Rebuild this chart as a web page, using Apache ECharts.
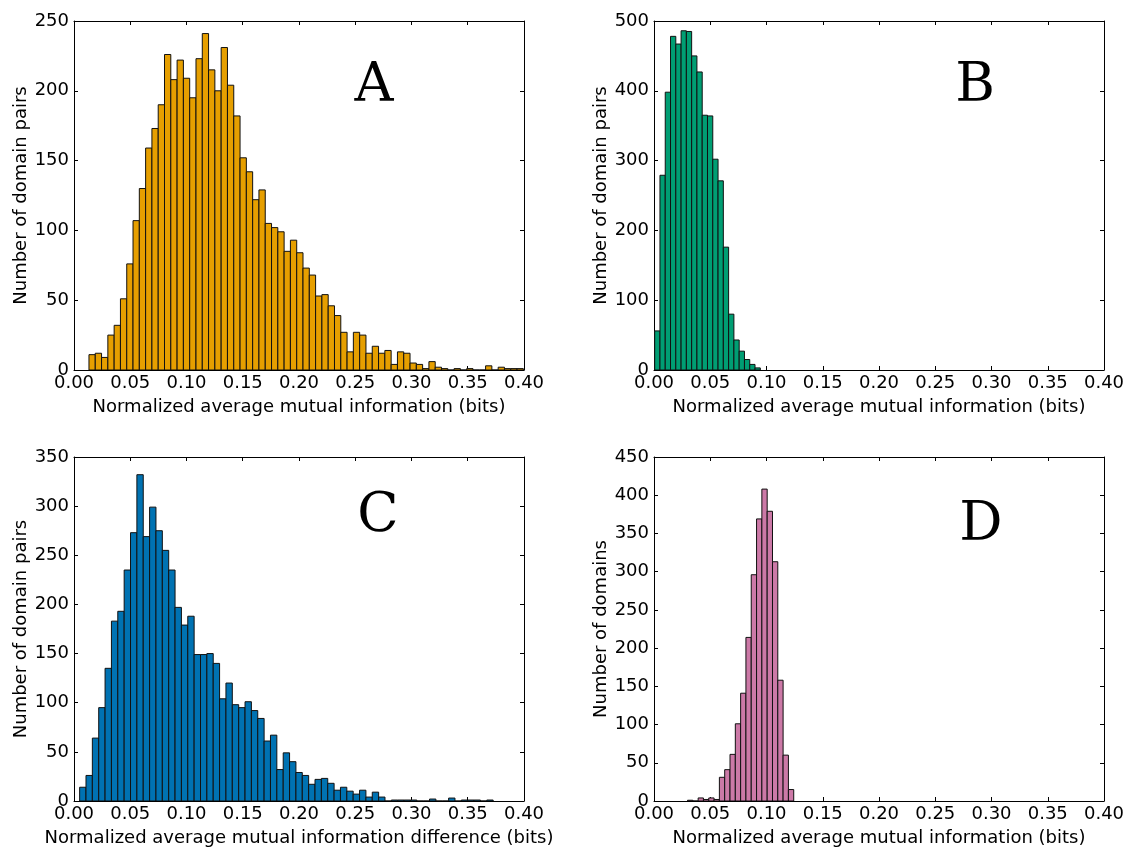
<!DOCTYPE html>
<html>
<head>
<meta charset="utf-8">
<script src="https://cdn.jsdelivr.net/npm/echarts@6/dist/echarts.min.js"></script>
<style>
  html, body { margin: 0; padding: 0; background: #fff; }
  #chart { width: 1140px; height: 848px; }
</style>
</head>
<body>
<div id="chart"></div>
<script>
// Histogram A: normalized average mutual information of domain pairs
const binStartA = 0.0133;
const binWidthA = 0.005596;
const countsA = [11, 12, 9, 25, 32, 51, 76, 107, 130, 159,
                 173, 190, 226, 208, 222, 209, 195, 223, 241, 215,
                 200, 231, 204, 182, 152, 142, 122, 129, 105, 102,
                 99, 85, 93, 84, 73, 68, 53, 54, 46, 39,
                 27, 13, 27, 25, 12, 17, 12, 14, 4, 13,
                 12, 5, 4, 1, 6, 2, 1, 0, 1, 0,
                 1, 0, 0, 3, 0, 2, 1, 1, 1];

// Histogram B
const binStartB = 0.0006;
const binWidthB = 0.004695;
const countsB = [56, 279, 398, 478, 467, 486, 485, 450, 427, 365,
                 364, 302, 271, 176, 80, 43, 27, 15, 8, 3];

// Histogram C: mutual information difference
const binStartC = 0.0050;
const binWidthC = 0.005655;
const countsC = [14, 26, 64, 95, 135, 183, 193, 235, 273, 332,
                 269, 299, 275, 255, 235, 197, 179, 188, 149, 149,
                 150, 140, 104, 120, 98, 95, 101, 92, 84, 61,
                 67, 32, 49, 40, 29, 26, 17, 22, 23, 18,
                 11, 14, 10, 7, 11, 4, 9, 4, 0, 1,
                 1, 1, 1, 0, 0, 2, 0, 0, 3, 0,
                 1, 1, 1, 0, 1];

// Histogram D: per-domain values
const binStartD = 0.0298;
const binWidthD = 0.00472;
const countsD = [1, 0, 4, 2, 4, 2, 31, 41, 61, 101,
                 141, 214, 296, 369, 408, 379, 313, 158, 60, 15];

const xMax = 0.40;
const xStep = 0.05;
const yMaxA = 250, yStepA = 50;
const yMaxB = 500, yStepB = 100;
const yMaxC = 350, yStepC = 50;
const yMaxD = 450, yStepD = 50;

const panelLetters = ['A', 'B', 'C', 'D'];
const xNames = [
  'Normalized average mutual information (bits)',
  'Normalized average mutual information (bits)',
  'Normalized average mutual information difference (bits)',
  'Normalized average mutual information (bits)'
];
const yNames = ['Number of domain pairs', 'Number of domain pairs', 'Number of domain pairs', 'Number of domains'];

const colors = ['#E69F00', '#009E73', '#0072B2', '#CC79A7'];

function bins(start, width, counts) {
  return counts.map((c, i) => [start + i * width, start + (i + 1) * width, c]);
}

const panels = [
  { data: bins(binStartA, binWidthA, countsA), yMax: yMaxA, yStep: yStepA },
  { data: bins(binStartB, binWidthB, countsB), yMax: yMaxB, yStep: yStepB },
  { data: bins(binStartC, binWidthC, countsC), yMax: yMaxC, yStep: yStepC },
  { data: bins(binStartD, binWidthD, countsD), yMax: yMaxD, yStep: yStepD }
];

const FONT = 'DejaVu Sans';
const grids = [
  { left: 74, top: 21, width: 450, height: 349 },
  { left: 654, top: 21, width: 450, height: 349 },
  { left: 74, top: 457, width: 450, height: 349 },
  { left: 654, top: 457, width: 450, height: 349 }
];

const lineStyle = { color: '#000', width: 1 };
const tickStyle = { show: true, inside: true, length: 4, lineStyle: { color: '#000', width: 1 } };

const xAxes = [], yAxes = [], series = [];
panels.forEach((p, i) => {
  xAxes.push({
    type: 'value', gridIndex: i, min: 0, max: xMax, interval: xStep,
    position: 'bottom',
    axisLine: { show: true, onZero: false, lineStyle },
    axisTick: tickStyle,
    splitLine: { show: false },
    axisLabel: { color: '#000', fontFamily: FONT, fontSize: 18, margin: 4,
                 formatter: v => v.toFixed(2) },
    name: xNames[i], nameLocation: 'middle', nameGap: 28,
    nameTextStyle: { color: '#000', fontFamily: FONT, fontSize: 18 }
  });
  yAxes.push({
    type: 'value', gridIndex: i, min: 0, max: p.yMax, interval: p.yStep,
    position: 'left',
    axisLine: { show: true, onZero: false, lineStyle },
    axisTick: tickStyle,
    splitLine: { show: false },
    axisLabel: { color: '#000', fontFamily: FONT, fontSize: 18, margin: 5 },
    name: yNames[i], nameLocation: 'middle', nameGap: 44,
    nameTextStyle: { color: '#000', fontFamily: FONT, fontSize: 18 }
  });
});
// mirrored axes for the top and right frame with inward ticks
panels.forEach((p, i) => {
  xAxes.push({
    type: 'value', gridIndex: i, min: 0, max: xMax, interval: xStep,
    position: 'top',
    axisLine: { show: true, onZero: false, lineStyle },
    axisTick: tickStyle, axisLabel: { show: false }, splitLine: { show: false }
  });
  yAxes.push({
    type: 'value', gridIndex: i, min: 0, max: p.yMax, interval: p.yStep,
    position: 'right',
    axisLine: { show: true, onZero: false, lineStyle },
    axisTick: tickStyle, axisLabel: { show: false }, splitLine: { show: false }
  });
});

panels.forEach((p, i) => {
  series.push({
    type: 'custom',
    xAxisIndex: i, yAxisIndex: i,
    clip: true,
    encode: { x: [0, 1], y: 2 },
    data: p.data,
    renderItem: (params, api) => {
      const top = api.coord([api.value(0), api.value(2)]);
      const base = api.coord([api.value(1), 0]);
      return {
        type: 'rect',
        shape: { x: top[0], y: top[1], width: base[0] - top[0], height: base[1] - top[1] },
        style: { fill: colors[i], stroke: '#111', lineWidth: 1 }
      };
    }
  });
});

const letterPos = [[374, 87], [975, 87], [378, 517], [981, 526]];
const graphic = panelLetters.map((t, i) => ({
  type: 'text', x: letterPos[i][0], y: letterPos[i][1], z: 10,
  style: { text: t, fill: '#000', font: '54px "DejaVu Serif"',
           textAlign: 'center', textVerticalAlign: 'middle' }
}));

const chart = echarts.init(document.getElementById('chart'), null, { renderer: 'canvas' });
chart.setOption({
  animation: false,
  backgroundColor: '#fff',
  grid: grids,
  xAxis: xAxes,
  yAxis: yAxes,
  series: series,
  graphic: graphic
});
</script>
</body>
</html>
